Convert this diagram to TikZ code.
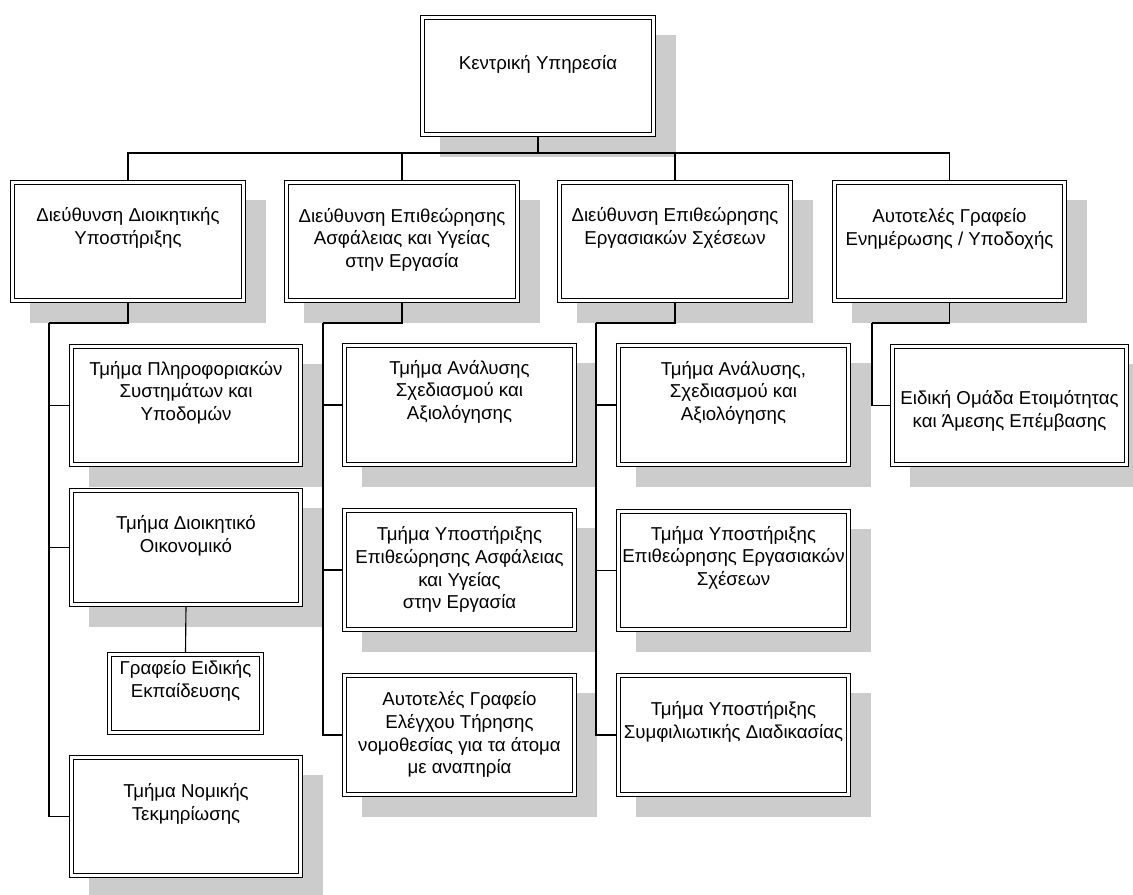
\documentclass[tikz,border=0pt]{standalone}
\usepackage{fontspec}
\setmainfont{Liberation Sans}
\pgfdeclarelayer{bglayer}
\pgfdeclarelayer{shadowlayer}
\pgfdeclarelayer{linelayer}
\pgfsetlayers{bglayer,shadowlayer,linelayer,main}
\definecolor{shadowgray}{HTML}{CCCCCC}
\tikzset{
  orgbox/.style={rectangle, draw=black, line width=0.6pt, double=white, double distance=2.3pt, fill=white, inner sep=0pt},
  orgtxt/.style={align=center, font=\fontsize{14pt}{17pt}\selectfont, inner sep=0pt},
  conn/.style={draw=black, line width=0.85pt}
}
% \obox{name}{x1}{y1}{x2}{y2}{text offset}{text}{shadow: 1/0}
\newcommand\obox[8]{%
  \node[orgbox, minimum width={(#4-#2-4.6)*0.75pt}, minimum height={(#5-#3-4.6)*0.75pt}] (#1) at ({(#2+#4)/2},{(#3+#5)/2}) {};
  \node[orgtxt] (#1t) at ([yshift={-(#6-2.3)*0.75pt}]#1.north) {#7};
  \ifnum#8=1
  \begin{pgfonlayer}{shadowlayer}
    \fill[shadowgray] ([shift={(17.7,17.7)}]#1.north west) rectangle ([shift={(22.3,22.3)}]#1.south east);
  \end{pgfonlayer}
  \fi
}
\begin{document}
\begin{tikzpicture}[x=0.75pt,y=-0.75pt]
\useasboundingbox (0,0) rectangle (1133,895);
\begin{pgfonlayer}{bglayer}
\fill[white] (0,0) rectangle (1133,895);
\end{pgfonlayer}
% top
\obox{top}{420}{15}{656}{137}{50}{Κεντρική Υπηρεσία}{1}
% level 2
\obox{a1}{10}{180}{246}{303}{48}{Διεύθυνση Διοικητικής\\Υποστήριξης}{1}
\obox{a2}{284}{180}{520}{303}{60}{Διεύθυνση Επιθεώρησης\\Ασφάλειας και Υγείας\\στην Εργασία}{1}
\obox{a3}{557}{180}{793}{303}{48}{Διεύθυνση Επιθεώρησης\\Εργασιακών Σχέσεων}{1}
\obox{a4}{832}{180}{1067}{303}{49}{Αυτοτελές Γραφείο\\Ενημέρωσης / Υποδοχής}{1}
% column 1
\obox{c1}{69}{344}{303}{467}{49}{Τμήμα Πληροφοριακών\\Συστημάτων και\\Υποδομών}{1}
\obox{c2}{69}{488}{303}{607}{48}{Τμήμα Διοικητικό\\Οικονομικό}{1}
\obox{g}{107}{652}{264}{735}{29}{Γραφείο Ειδικής\\Εκπαίδευσης}{0}
\obox{c3}{69}{755}{303}{878}{49}{Τμήμα Νομικής\\Τεκμηρίωσης}{1}
% column 2
\obox{d1}{342}{343}{577}{467}{49}{Τμήμα Ανάλυσης\\Σχεδιασμού και\\Αξιολόγησης}{1}
\obox{d2}{342}{508}{577}{632}{62}{Τμήμα Υποστήριξης\\Επιθεώρησης Ασφάλειας\\και Υγείας\\στην Εργασία}{1}
\obox{d3}{342}{673}{577}{797}{62}{Αυτοτελές Γραφείο\\Ελέγχου Τήρησης\\νομοθεσίας για τα άτομα\\με αναπηρία}{1}
% column 3
\obox{e1}{616}{343}{851}{467}{50}{Τμήμα Ανάλυσης,\\Σχεδιασμού και\\Αξιολόγησης}{1}
\obox{e2}{616}{509}{851}{632}{49}{Τμήμα Υποστήριξης\\Επιθεώρησης Εργασιακών\\Σχέσεων}{1}
\obox{e3}{616}{673}{851}{797}{49}{Τμήμα Υποστήριξης\\Συμφιλιωτικής Διαδικασίας}{1}
% column 4
\obox{f1}{890}{344}{1129}{467}{67}{Ειδική Ομάδα Ετοιμότητας\\και Άμεσης Επέμβασης}{1}
% junctions
\coordinate (bus) at (538,153);
\coordinate (j1) at (49,323);
\coordinate (j2) at (323,323);
\coordinate (j3) at (596,323);
\coordinate (j4) at (872,323);
\begin{pgfonlayer}{linelayer}
\draw[conn] (top.south) -- (bus);
\draw[conn] (bus) -| (a1.north);
\draw[conn] (bus) -| (a2.north);
\draw[conn] (bus) -| (a3.north);
\draw[conn] (bus) -| (a4.north);
\draw[conn] (a1.south) |- (j1);
\draw[conn] (j1) |- (c1.west);
\draw[conn] (j1) |- (c2.west);
\draw[conn] (j1) |- (c3.west);
\draw[conn] (c2.south) -- (g.north);
\draw[conn] (a2.south) |- (j2);
\draw[conn] (j2) |- (d1.west);
\draw[conn] (j2) |- (d2.west);
\draw[conn] (j2) |- (d3.west);
\draw[conn] (a3.south) |- (j3);
\draw[conn] (j3) |- (e1.west);
\draw[conn] (j3) |- (e2.west);
\draw[conn] (j3) |- (e3.west);
\draw[conn] (a4.south) |- (j4);
\draw[conn] (j4) |- (f1.west);
\end{pgfonlayer}
\end{tikzpicture}
\end{document}
